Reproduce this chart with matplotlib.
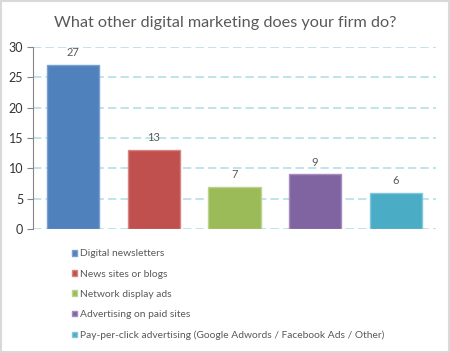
import matplotlib
matplotlib.use("Agg")
import matplotlib.pyplot as plt
from matplotlib.patches import Rectangle

categories = ["Digital newsletters", "News sites or blogs", "Network display ads",
              "Advertising on paid sites",
              "Pay-per-click advertising (Google Adwords / Facebook Ads / Other)"]
values = [27, 13, 7, 9, 6]
colors = ["#4F81BD", "#C0504D", "#9BBB59", "#8064A2", "#4BACC6"]
edges = ["#7A9FD0", "#D98583", "#BCD38E", "#A58DC0", "#83C6DA"]
yticks = [0, 5, 10, 15, 20, 25, 30]

plt.rcParams['font.family'] = ['Lato', 'DejaVu Sans']
txt = "#595959"

fig = plt.figure(figsize=(4.5, 3.53), dpi=100)
fig.patches.append(Rectangle((0.002, 0.003), 0.995, 0.993, transform=fig.transFigure,
                             fill=False, edgecolor="#D9D9D9", linewidth=1.5))
ax = fig.add_axes([0.073, 0.351, 0.896, 0.516])

x = range(len(values))
bars = ax.bar(x, values, width=0.65, color=colors, edgecolor=edges, linewidth=1,
              label=categories, zorder=3)
for i, v in enumerate(values):
    ax.annotate(str(v), (i, v), xytext=(0, 5), textcoords="offset points",
                ha="center", va="bottom", fontsize=8, color=txt)

ax.set_xlim(-0.5, len(values) - 0.5)
ax.set_ylim(0, 30)
ax.set_yticks(yticks)
ax.set_xticks([])
ax.yaxis.grid(True, color="#B4DFE8", linestyle=(0, (5, 2.5)), linewidth=1.2, zorder=0)
for s in ["top", "right", "bottom"]:
    ax.spines[s].set_visible(False)
ax.spines["left"].set_color("#868686")
ax.tick_params(axis="y", colors="#868686", labelcolor="#333333", labelsize=9,
               length=4, direction="out", pad=3)

fig.text(0.5, 0.935, "What other digital marketing does your firm do?", ha="center",
         va="center", fontsize=11.7, color=txt)

fig.legend(handles=list(bars), labels=categories, loc="upper left",
           bbox_to_anchor=(0.151, 0.305), frameon=False, fontsize=7.35,
           labelcolor=txt, handlelength=0.45, handleheight=0.45, handletextpad=0.35,
           labelspacing=1.1, borderaxespad=0)

fig.savefig("out.png", dpi=100)
